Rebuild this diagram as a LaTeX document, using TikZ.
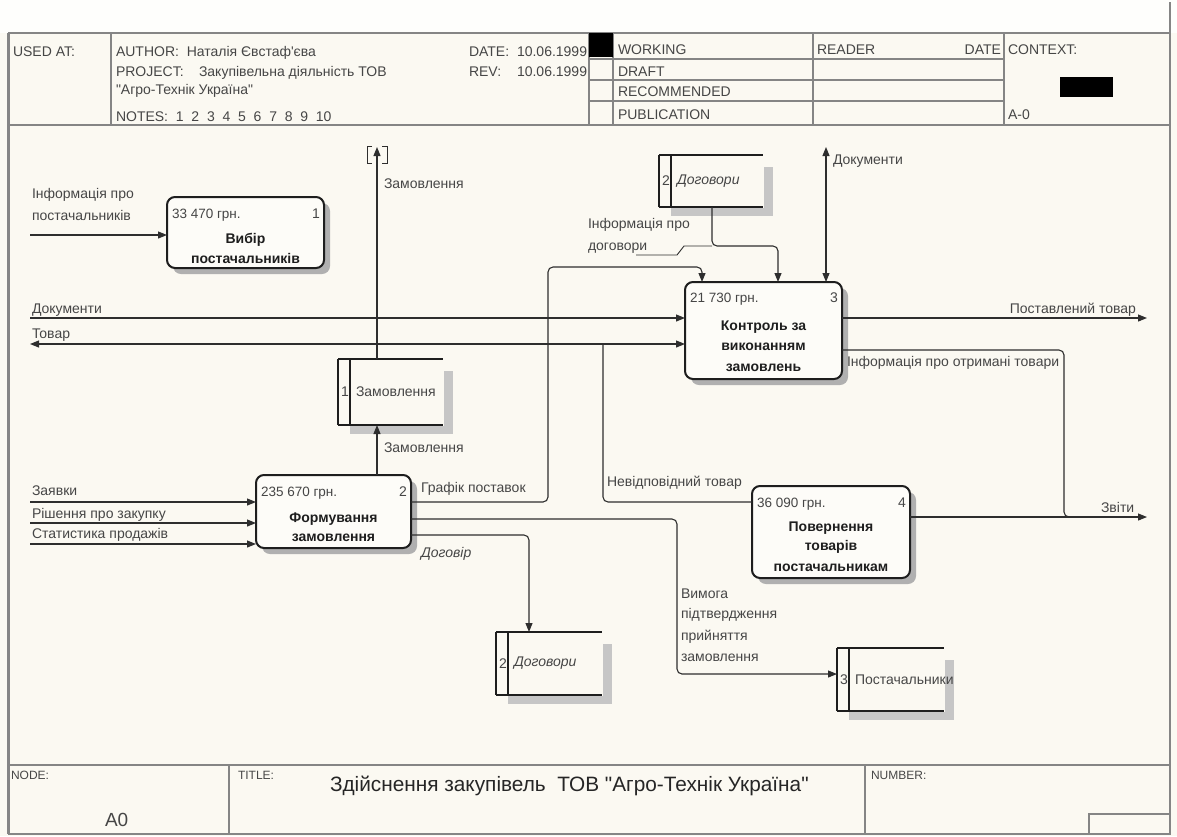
\documentclass[tikz,border=0pt]{standalone}
\usepackage{fontspec}
\setmainfont{Liberation Sans}[Ligatures=TeXOff]
\usetikzlibrary{arrows.meta,shadows}
\definecolor{paper}{HTML}{FBF9F2}
\definecolor{topstrip}{HTML}{FEFEFC}
\definecolor{framec}{HTML}{858585}
\definecolor{linec}{HTML}{2E2E2E}
\definecolor{inkc}{HTML}{464646}
\definecolor{boxc}{HTML}{1E1E1E}
\definecolor{boxfill}{HTML}{FDFCF8}
\definecolor{shadowc}{HTML}{B0B0B0}
\definecolor{storeshade}{HTML}{C6C6C6}

% data store: name, left, top, right, bottom, number, label
\newcommand{\datastore}[7]{%
  \fill[storeshade] (#4+1,#3+12) rectangle (#4+10,#5+9);
  \fill[storeshade] (#2+12,#5+1) rectangle (#4+10,#5+9);
  \node[minimum width={#4pt-#2pt}, minimum height={#5pt-#3pt}] (#1) at ({(#2+#4)/2},{(#3+#5)/2}) {};
  \draw[storeline] (#1.north west) -- (#1.north east)
                   (#1.south west) -- (#1.south east)
                   (#1.north west) -- (#1.south west)
                   ([xshift=12pt]#1.north west) -- ([xshift=12pt]#1.south west);
  \node[lbl, anchor=west] (#1-num) at ([xshift=3pt]#1.west) {#6};
  \node[lbl, anchor=west] (#1-txt) at ([xshift=18pt]#1.west) {#7};
}

\begin{document}
\begin{tikzpicture}[x=1pt,y=-1pt,
  every node/.style={inner sep=0pt, outer sep=0pt, text=inkc},
  lbl/.style={font=\fontsize{14}{20}\selectfont},
  hdr/.style={font=\fontsize{14}{17}\selectfont, anchor=base west},
  cost/.style={font=\fontsize{13.5}{17}\selectfont, anchor=base west},
  boxno/.style={font=\fontsize{14}{17}\selectfont, anchor=base east},
  ttl/.style={font=\fontsize{14}{20}\selectfont\bfseries, anchor=base, text=boxc},
  frame/.style={draw=framec, line width=1.4pt},
  procbox/.style={draw=boxc, line width=2pt, rounded corners=8pt, fill=boxfill,
    drop shadow={shadow xshift=6pt, shadow yshift=-6pt, fill=shadowc, opacity=1}},
  storeline/.style={draw=boxc, line width=1.6pt},
  wire/.style={draw=linec, line width=1.1pt, rounded corners=5pt},
  flow/.style={wire, -{Triangle[length=9pt,width=7pt]}},
  flowboth/.style={wire, {Triangle[length=9pt,width=7pt]}-{Triangle[length=9pt,width=7pt]}},
  bracket/.style={draw=linec, line width=1pt},
]
\useasboundingbox (0,0) rectangle (1177,836);
\fill[paper] (0,0) rectangle (1177,836);
\fill[topstrip] (0,0) rectangle (1177,33);

% ---------- outer frame ----------
\draw[framec, line width=3pt] (8,33) -- (8,834);
\draw[frame] (1170,2) -- (1170,834);
\draw[frame] (8,834) -- (1170,834);

% ---------- header ----------
\draw[frame] (8,33) -- (1170,33);
\draw[frame] (8,125) -- (1170,125);
\foreach \x in {111,589,613,813,1004} \draw[frame] (\x,33) -- (\x,125);
\foreach \y in {59,80,101} \draw[frame] (589,\y) -- (1004,\y);
\fill[black] (589,33) rectangle (613,57);
\fill[black] (1060,77) rectangle (1113,97);

\node[hdr] (usedat) at (13,56) {USED AT:};
\node[hdr] (author) at (116,56) {AUTHOR:\ \ Наталія Євстаф'єва};
\node[hdr] (project) at (116,76) {PROJECT:};
\node[hdr] (projname) at (199,76) {Закупівельна діяльність ТОВ};
\node[hdr] (projname2) at (116,94) {"Агро-Технік Україна"};
\node[hdr] (notes) at (116,121) {NOTES:\ \ 1\ \ 2\ \ 3\ \ 4\ \ 5\ \ 6\ \ 7\ \ 8\ \ 9\ \ 10};
\node[hdr] (datek) at (469,56) {DATE:};
\node[hdr] (datev) at (517,56) {10.06.1999};
\node[hdr] (revk) at (469,76) {REV:};
\node[hdr] (revv) at (517,76) {10.06.1999};
\node[hdr] (working) at (618,54) {WORKING};
\node[hdr] (draft) at (618,76) {DRAFT};
\node[hdr] (recom) at (618,96) {RECOMMENDED};
\node[hdr] (publ) at (618,119) {PUBLICATION};
\node[hdr] (reader) at (817,54) {READER};
\node[hdr, anchor=base east] (rdate) at (1001,54) {DATE};
\node[hdr] (context) at (1008,54) {CONTEXT:};
\node[hdr] (actx) at (1008,119) {A-0};

% ---------- footer ----------
\draw[frame] (8,765) -- (1170,765);
\draw[frame] (229,765) -- (229,834);
\draw[frame] (865,765) -- (865,834);
\draw[frame] (1089,814) rectangle (1170,834);
\node[hdr, font=\fontsize{12}{14}\selectfont] (nodek) at (11,779) {NODE:};
\node[hdr, font=\fontsize{19}{22}\selectfont] (nodev) at (105,826) {A0};
\node[hdr, font=\fontsize{12}{14}\selectfont] (titlek) at (238,779) {TITLE:};
\node[hdr, font=\fontsize{20.8}{24}\selectfont, text=black!85] (titlev) at (330,791) {Здійснення закупівель\ \ ТОВ "Агро-Технік Україна"};
\node[hdr, font=\fontsize{12}{14}\selectfont] (numk) at (871,779) {NUMBER:};

% ---------- activities ----------
\node[procbox, minimum width=157pt, minimum height=71pt] (b1) at (245.5,232.5) {};
\node[cost] (b1c) at ([shift={(5,21)}]b1.north west) {33 470 грн.};
\node[boxno] (b1n) at ([shift={(-4,21)}]b1.north east) {1};
\node[ttl] (b1t1) at ([shift={(0,46)}]b1.north) {Вибір};
\node[ttl] (b1t2) at ([shift={(0,66)}]b1.north) {постачальників};

\node[procbox, minimum width=155pt, minimum height=73pt] (b2) at (333.5,511.5) {};
\node[cost] (b2c) at ([shift={(5,21)}]b2.north west) {235 670 грн.};
\node[boxno] (b2n) at ([shift={(-4,21)}]b2.north east) {2};
\node[ttl] (b2t1) at ([shift={(0,47)}]b2.north) {Формування};
\node[ttl] (b2t2) at ([shift={(0,66)}]b2.north) {замовлення};

\node[procbox, minimum width=157pt, minimum height=97pt] (b3) at (763.5,330.5) {};
\node[cost] (b3c) at ([shift={(5,20)}]b3.north west) {21 730 грн.};
\node[boxno] (b3n) at ([shift={(-4,20)}]b3.north east) {3};
\node[ttl] (b3t1) at ([shift={(0,48)}]b3.north) {Контроль за};
\node[ttl] (b3t2) at ([shift={(0,68)}]b3.north) {виконанням};
\node[ttl] (b3t3) at ([shift={(0,89)}]b3.north) {замовлень};

\node[procbox, minimum width=158pt, minimum height=92pt] (b4) at (831,532) {};
\node[cost] (b4c) at ([shift={(5,21)}]b4.north west) {36 090 грн.};
\node[boxno] (b4n) at ([shift={(-4,21)}]b4.north east) {4};
\node[ttl] (b4t1) at ([shift={(0,45)}]b4.north) {Повернення};
\node[ttl] (b4t2) at ([shift={(0,64)}]b4.north) {товарів};
\node[ttl] (b4t3) at ([shift={(0,85)}]b4.north) {постачальникам};

% ---------- data stores ----------
\datastore{s1}{338}{359}{443}{425}{1}{Замовлення}
\datastore{s2t}{659}{155}{763}{207}{2}{\itshape Договори}
\datastore{s2b}{496}{632}{602}{695}{2}{\itshape Договори}
\datastore{s3}{837}{648}{944}{711}{3}{Постачальники}

% ---------- boundary points ----------
\coordinate (inSup) at (30,235);
\coordinate (inDoc) at (30,318);
\coordinate (inGood) at (30,344);
\coordinate (inReq) at (30,502);
\coordinate (inDec) at (30,523);
\coordinate (inStat) at (30,544);
\coordinate (tunOrd) at (377,147);
\coordinate (tunDoc) at (826,147);
\coordinate (outGood) at (1147,318);
\coordinate (outRep) at (1147,517);
\coordinate (tapBad) at (603,344);

% ---------- arrows ----------
\draw[flow] (inSup) -- (inSup -| b1.west);
\draw[flow] (inDoc) -- (inDoc -| b3.west);
\draw[flowboth] (inGood) -- (inGood -| b3.west);
\draw[flow] (inReq) -- (inReq -| b2.west);
\draw[flow] (inDec) -- (inDec -| b2.west);
\draw[flow] (inStat) -- (inStat -| b2.west);

\draw[flow] (b2.north -| tunOrd) -- (s1.south -| tunOrd);
\draw[flow] (s1.north -| tunOrd) -- (tunOrd);
\draw[bracket] (372,146) -- (367,146) -- (367,163) -- (372,163);
\draw[bracket] (382,146) -- (387,146) -- (387,163) -- (382,163);

\draw[flow] (b2.east |- 0,502) -- (548,502) -- (548,267) -- (702,267) -- (b3.north -| 702,0);
\draw[flow] (b2.east |- 0,519) -- (677,519) -- (677,674) -- (s3.west |- 0,674);
\draw[flow] (b2.east |- 0,535) -- (529,535) -- (s2b.north -| 529,0);
\draw[flow] (s2t.south -| 712,0) -- (712,246) -- (778,246) -- (b3.north -| 778,0);
\draw[draw=linec, line width=0.9pt] (636,255) -- (677,255) -- (684,246) -- (712,246);
\draw[flowboth] (b3.north -| tunDoc) -- (tunDoc);

\draw[flow] (b3.east |- outGood) -- (outGood);
\draw[wire] (b3.east |- 0,350) -- (1064,350) -- (1064,517) -- (1085,517);
\draw[flow] (b4.east |- outRep) -- (outRep);
\draw[wire] (tapBad) -- (603,502) -- (b4.west |- 0,502);

% ---------- arrow labels ----------
\node[lbl, anchor=base west] (lSup1) at (32,198) {Інформація про};
\node[lbl, anchor=base west] (lSup2) at (32,220) {постачальників};
\node[lbl, anchor=base west] (lDoc) at (32,313) {Документи};
\node[lbl, anchor=base west] (lGood) at (32,338) {Товар};
\node[lbl, anchor=base west] (lReq) at (32,495) {Заявки};
\node[lbl, anchor=base west] (lDec) at (32,518) {Рішення про закупку};
\node[lbl, anchor=base west] (lStat) at (32,538) {Статистика продажів};
\node[lbl, anchor=base west] (lOrd1) at (384,188) {Замовлення};
\node[lbl, anchor=base west] (lOrd2) at (384,452) {Замовлення};
\node[lbl, anchor=base west] (lSched) at (421,492) {Графік поставок};
\node[lbl, anchor=base west] (lContr) at (421,557) {\itshape Договір};
\node[lbl, anchor=base west] (lCInf1) at (588,228) {Інформація про};
\node[lbl, anchor=base west] (lCInf2) at (588,250) {договори};
\node[lbl, anchor=base west] (lDocT) at (833,164) {Документи};
\node[lbl, anchor=base east] (lOut) at (1136,313) {Поставлений товар};
\node[lbl, anchor=base west] (lRecv) at (847,366) {Інформація про отримані товари};
\node[lbl, anchor=base west] (lRep) at (1101,512) {Звіти};
\node[lbl, anchor=base west] (lBad) at (607,486) {Невідповідний товар};
\node[lbl, anchor=base west] (lAsk1) at (681,598) {Вимога};
\node[lbl, anchor=base west] (lAsk2) at (681,618) {підтвердження};
\node[lbl, anchor=base west] (lAsk3) at (681,640) {прийняття};
\node[lbl, anchor=base west] (lAsk4) at (681,661) {замовлення};
\end{tikzpicture}
\end{document}
